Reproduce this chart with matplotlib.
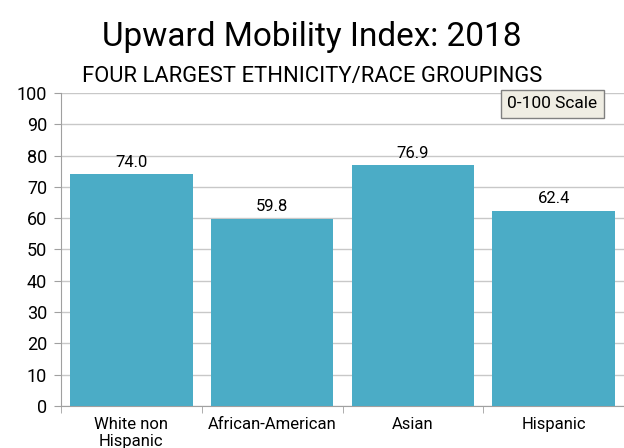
import matplotlib.pyplot as plt
import numpy as np

plt.rcParams['font.family'] = ['Roboto', 'DejaVu Sans']

groups = ['White non\nHispanic', 'African-American', 'Asian', 'Hispanic']
index_values = [74.0, 59.8, 76.9, 62.4]

fig = plt.figure(figsize=(6.24, 4.48), dpi=100)
ax = fig.add_axes([0.0978, 0.09375, 0.9022, 0.6987])

x = np.arange(len(groups))
bars = ax.bar(x, index_values, width=0.87, color='#4BACC6', zorder=3)

for b, v in zip(bars, index_values):
    ax.text(b.get_x() + b.get_width() / 2, v + 1.5, f'{v:.1f}',
            ha='center', va='bottom', fontsize=12, color='black')

ax.set_xlim(-0.5, len(groups) - 0.5)
ax.set_ylim(0, 100)
ax.set_yticks(range(0, 101, 10))
ax.tick_params(axis='y', labelsize=13, length=5, color='#a0a0a0', pad=5)

# category names centred, tick marks on the boundaries
ax.set_xticks(x)
ax.set_xticklabels(groups, fontsize=12, va='top', linespacing=1.15)
ax.tick_params(axis='x', length=0, pad=8)
ax.set_xticks(np.arange(-0.5, len(groups)), minor=True)
ax.tick_params(axis='x', which='minor', length=5, color='#a0a0a0')

ax.grid(axis='y', color='#c8c8c8', linewidth=1, zorder=0)
for s in ['top', 'right']:
    ax.spines[s].set_visible(False)
for s in ['left', 'bottom']:
    ax.spines[s].set_color('#a0a0a0')

ax.text(0.873, 0.965, '0-100 Scale', transform=ax.transAxes, ha='center', va='center',
        fontsize=12.5, zorder=5,
        bbox=dict(boxstyle='square,pad=0.38', facecolor='#EFEDE3', edgecolor='#808080', linewidth=1))

fig.text(0.5, 0.897, 'Upward Mobility Index: 2018', ha='center', va='baseline', fontsize=24)
fig.text(0.5, 0.818, 'FOUR LARGEST ETHNICITY/RACE GROUPINGS', ha='center', va='baseline', fontsize=15.8)

fig.savefig('out.png', dpi=100)
